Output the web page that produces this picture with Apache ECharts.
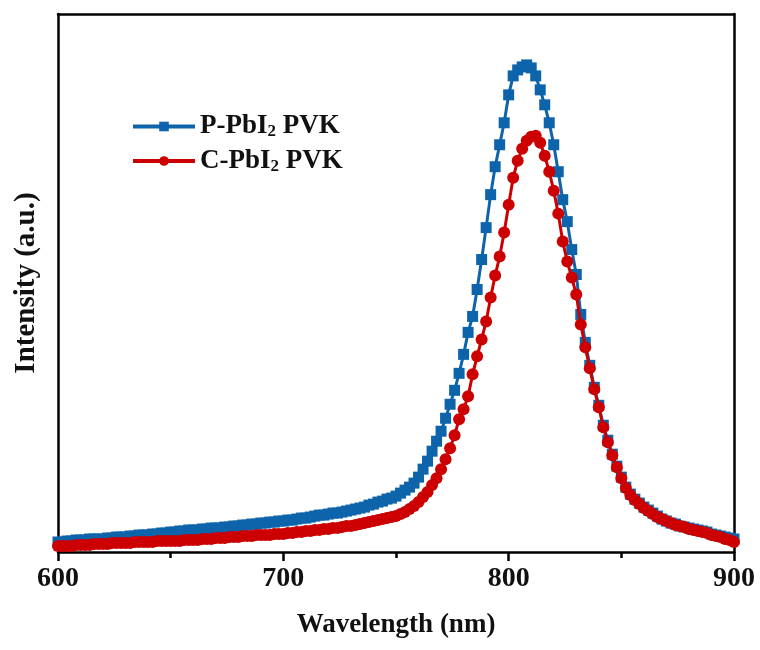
<!DOCTYPE html>
<html>
<head>
<meta charset="utf-8">
<script src="https://cdn.jsdelivr.net/npm/echarts@6/dist/echarts.min.js"></script>
<style>html,body{margin:0;padding:0;background:#fff}#c{width:760px;height:650px}</style>
</head>
<body>
<div id="c"></div>
<script>
// wavelengths (nm), 2 nm steps from 600 to 900
const wavelengths = [];
for (let w = 600; w <= 900; w += 2) wavelengths.push(w);

// P-PbI2 PVK intensity (a.u.)
const pPbI2 = [
10,10,11,11,12,12,12,13,13,13,13,14,14,15,15,15,16,16,17,17,
17,18,18,19,19,20,20,21,21,22,22,22,23,23,24,24,24,25,25,26,
26,27,27,28,28,29,29,30,30,31,31,32,32,33,34,34,35,36,37,37,
38,39,39,40,41,42,43,44,45,47,48,50,51,53,54,56,59,62,65,69,
75,83,91,101,111,121,134,148,162,179,198,220,236,263,293,325,358,386,408,430,
458,477,483,486,488,485,477,463,448,430,408,381,353,331,303,278,238,210,187,165,
147,127,112,98,86,75,65,58,53,49,45,42,39,36,33,31,29,28,26,25,
24,23,22,21,20,18,17,16,15,14,13
];

// C-PbI2 PVK intensity (a.u.)
const cPbI2 = [
6,6,6,6,7,7,7,7,8,8,8,8,9,9,9,9,9,10,10,10,
10,10,11,11,11,11,11,11,12,12,12,12,13,13,13,14,14,14,15,15,
15,16,16,16,17,17,17,17,18,18,18,19,19,20,20,21,21,22,22,23,
23,24,24,25,26,26,27,28,29,30,31,32,33,34,35,36,38,40,43,46,
50,55,60,67,74,83,93,104,117,133,143,156,178,196,213,231,255,277,296,320,
348,375,392,404,412,416,417,410,397,381,362,339,311,291,275,258,228,205,184,163,
145,125,110,97,85,74,64,57,52,48,44,41,38,35,33,31,29,27,26,25,
23,22,21,20,19,17,16,15,13,12,10
];

const seriesNames = ['P-PbI2 PVK', 'C-PbI2 PVK'];
const xTicks = [600, 700, 800, 900];

const toPairs = (ys) => ys.map((v, i) => [wavelengths[i], v]);

const chart = echarts.init(document.getElementById('c'), null, {renderer: 'canvas'});
const serif = 'Liberation Serif';
const axisLineStyle = {color: '#000', width: 2.5};

chart.setOption({
  animation: false,
  backgroundColor: '#fff',
  grid: {left: 58, right: 26, top: 14, bottom: 98},
  legend: {
    orient: 'vertical',
    left: 126,
    top: 108,
    itemWidth: 62,
    itemHeight: 12,
    itemGap: 7,
    data: seriesNames,
    lineStyle: {width: 4},
    formatter: (name) => {
      const parts = name.split('2');
      return '{a|' + parts[0] + '}{s|2}{a|' + parts[1] + '}';
    },
    textStyle: {
      rich: {
        a: {fontFamily: serif, fontWeight: 'bold', fontSize: 27, color: '#111', lineHeight: 28},
        s: {fontFamily: serif, fontWeight: 'bold', fontSize: 17, color: '#111', verticalAlign: 'bottom', lineHeight: 28, padding: [7, 0, 0, 0]}
      }
    }
  },
  xAxis: [{
    type: 'value',
    min: 600, max: 900, interval: 100,
    name: 'Wavelength (nm)',
    nameLocation: 'middle',
    nameGap: 60,
    nameTextStyle: {fontFamily: serif, fontWeight: 'bold', fontSize: 27, color: '#111'},
    axisLine: {show: true, onZero: false, lineStyle: axisLineStyle},
    axisTick: {show: true, inside: false, length: 9, lineStyle: {color: '#000', width: 2.5}},
    minorTick: {show: true, splitNumber: 2, length: 6, lineStyle: {color: '#000', width: 2.5}},
    axisLabel: {fontFamily: serif, fontWeight: 'bold', fontSize: 28, color: '#111', margin: 13,
      customValues: xTicks},
    splitLine: {show: false}
  }, {
    type: 'value', position: 'top', min: 600, max: 900,
    axisLine: {show: true, onZero: false, lineStyle: axisLineStyle},
    axisTick: {show: false}, axisLabel: {show: false}, splitLine: {show: false}
  }],
  yAxis: [{
    type: 'value', min: 0, max: 539,
    name: 'Intensity (a.u.)',
    nameLocation: 'middle',
    nameGap: 17,
    nameRotate: 90,
    nameTextStyle: {fontFamily: serif, fontWeight: 'bold', fontSize: 29, color: '#111'},
    axisLine: {show: true, onZero: false, lineStyle: axisLineStyle},
    axisTick: {show: false}, axisLabel: {show: false}, splitLine: {show: false}
  }, {
    type: 'value', position: 'right', min: 0, max: 539,
    axisLine: {show: true, onZero: false, lineStyle: axisLineStyle},
    axisTick: {show: false}, axisLabel: {show: false}, splitLine: {show: false}
  }],
  series: [{
    name: seriesNames[0],
    type: 'line',
    data: toPairs(pPbI2),
    symbol: 'rect',
    symbolSize: 11,
    color: '#0d64aa',
    lineStyle: {width: 3, color: '#0d64aa'},
    itemStyle: {color: '#0d64aa'},
    z: 2
  }, {
    name: seriesNames[1],
    type: 'line',
    data: toPairs(cPbI2),
    symbol: 'circle',
    symbolSize: 12,
    color: '#cc0000',
    lineStyle: {width: 3, color: '#cc0000'},
    itemStyle: {color: '#cc0000'},
    z: 3
  }]
});
</script>
</body>
</html>
